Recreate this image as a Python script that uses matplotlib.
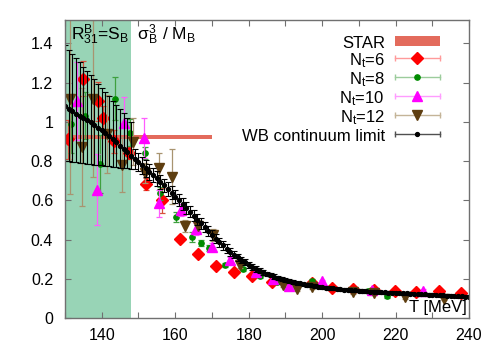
import matplotlib
matplotlib.use('Agg')
import matplotlib.pyplot as plt
from matplotlib.legend_handler import HandlerBase
from matplotlib.lines import Line2D
from matplotlib.patches import Rectangle
from matplotlib.ticker import MultipleLocator, FuncFormatter

plt.rcParams['font.family'] = ['Liberation Sans', 'DejaVu Sans']
plt.rcParams['mathtext.fontset'] = 'custom'
plt.rcParams['mathtext.rm'] = 'Liberation Sans'
plt.rcParams['mathtext.it'] = 'Liberation Sans:italic'
plt.rcParams['mathtext.bf'] = 'Liberation Sans:bold'

# ---------------- data ----------------
band_T = [130, 148]            # shaded crossover region
star_T = [130, 170]
star_value = 0.924
star_halfwidth = 0.011

t6 = [130.8, 134.9, 139.0, 140.3, 143.4, 147.4, 152.0, 156.4, 161.3, 166.1, 171.0,
      176.0, 181.0, 186.3, 197.2, 202.6, 208.3, 214.0, 219.9, 225.6, 231.8, 237.8]
v6 = [0.91, 1.22, 1.105, 1.02, 0.90, 0.84, 0.685, 0.60, 0.405, 0.325, 0.266,
      0.237, 0.213, 0.186, 0.178, 0.155, 0.150, 0.145, 0.139, 0.132, 0.139, 0.130]
e6 = [0.10, 0.09, 0.10, 0.06, 0.06, 0.03, 0.03, 0.065, 0.01, 0.01, 0.006,
      0.006, 0.006, 0.006, 0.006, 0.005, 0.005, 0.005, 0.005, 0.005, 0.005, 0.005]

t8 = [131.7, 135.5, 139.5, 143.5, 147.6, 151.9, 156.0, 160.2, 164.6, 166.9, 169.2,
      173.7, 178.4, 183.0, 187.8, 197.3, 212.4, 217.8]
v8 = [0.99, 1.03, 0.785, 1.117, 0.945, 0.84, 0.635, 0.515, 0.412, 0.381, 0.356,
      0.272, 0.252, 0.215, 0.182, 0.188, 0.14, 0.11]
e8 = [0.15, 0.12, 0.15, 0.11, 0.07, 0.03, 0.035, 0.025, 0.025, 0.015, 0.015,
      0.01, 0.01, 0.01, 0.008, 0.01, 0.006, 0.006]

t10 = [133.4, 138.8, 146.1, 151.5, 155.5, 161.5, 165.6, 169.9, 174.9, 182.1, 186.5,
       191.0, 200.0, 213.5, 227.5]
v10 = [1.105, 0.654, 0.995, 0.918, 0.585, 0.55, 0.453, 0.364, 0.295, 0.237, 0.198,
       0.164, 0.188, 0.142, 0.14]
e10 = [0.2, 0.18, 0.13, 0.1, 0.07, 0.03, 0.03, 0.02, 0.015, 0.01, 0.01,
       0.008, 0.008, 0.006, 0.006]

t12 = [131.3, 134.5, 137.6, 141.5, 145.4, 148.6, 151.8, 155.5, 159.0, 162.6, 166.2,
       170.2, 177.6, 189.4, 193.3, 197.2, 208.3, 214.0, 222.6, 233.3]
v12 = [1.114, 0.87, 1.117, 0.937, 0.782, 0.898, 0.739, 0.765, 0.72, 0.47, 0.47,
       0.425, 0.27, 0.168, 0.147, 0.16, 0.132, 0.126, 0.105, 0.098]
e12 = [0.48, 0.3, 0.4, 0.2, 0.14, 0.12, 0.05, 0.075, 0.14, 0.03, 0.03,
       0.03, 0.015, 0.01, 0.01, 0.01, 0.008, 0.008, 0.006, 0.006]

wb_T = [130, 131, 132, 133, 134, 135, 136, 137, 138, 139,
        140, 141, 142, 143, 144, 145, 146, 147, 148, 149,
        150, 151, 152, 153, 154, 155, 156, 157, 158, 159,
        160, 161, 162, 163, 164, 165, 166, 167, 168, 169,
        170, 171, 172, 173, 174, 175, 176, 177, 178, 179,
        180, 181, 182, 183, 184, 185, 186, 187, 188, 189,
        190, 191, 192, 193, 194, 195, 196, 197, 198, 199,
        200, 201, 202, 203, 204, 205, 206, 207, 208, 209,
        210, 211, 212, 213, 214, 215, 216, 217, 218, 219,
        220, 221, 222, 223, 224, 225, 226, 227, 228, 229,
        230, 231, 232, 233, 234, 235, 236, 237, 238, 239, 240]
wb_v = [1.080, 1.066, 1.053, 1.041, 1.030, 1.019, 1.008, 0.997, 0.984, 0.971,
        0.958, 0.944, 0.929, 0.913, 0.896, 0.879, 0.862, 0.845, 0.828, 0.811,
        0.795, 0.779, 0.763, 0.746, 0.729, 0.712, 0.694, 0.676, 0.657, 0.638,
        0.619, 0.600, 0.581, 0.562, 0.542, 0.522, 0.502, 0.482, 0.462, 0.443,
        0.424, 0.405, 0.387, 0.370, 0.354, 0.338, 0.323, 0.309, 0.296, 0.284,
        0.272, 0.261, 0.251, 0.242, 0.233, 0.225, 0.218, 0.211, 0.205, 0.199,
        0.194, 0.189, 0.184, 0.180, 0.176, 0.172, 0.169, 0.166, 0.163, 0.160,
        0.157, 0.155, 0.153, 0.151, 0.149, 0.147, 0.145, 0.144, 0.142, 0.141,
        0.139, 0.138, 0.137, 0.135, 0.134, 0.133, 0.132, 0.131, 0.130, 0.129,
        0.128, 0.127, 0.126, 0.125, 0.124, 0.123, 0.122, 0.121, 0.120, 0.119,
        0.118, 0.117, 0.116, 0.115, 0.114, 0.113, 0.112, 0.111, 0.110, 0.109, 0.108]
wb_err_up = [0.310, 0.302, 0.294, 0.284, 0.273, 0.263, 0.252, 0.241, 0.232, 0.224,
             0.215, 0.207, 0.201, 0.195, 0.190, 0.185, 0.181, 0.176, 0.171, 0.050,
             0.046, 0.044, 0.042, 0.040, 0.038, 0.037, 0.036, 0.035, 0.034, 0.033,
             0.032, 0.031, 0.030, 0.030, 0.029, 0.028, 0.028, 0.027, 0.026, 0.026,
             0.025, 0.024, 0.023, 0.022, 0.021, 0.020, 0.019, 0.018, 0.017, 0.016,
             0.015, 0.014, 0.014, 0.013, 0.012, 0.012, 0.011, 0.011, 0.010, 0.010,
             0.010, 0.009, 0.009, 0.009, 0.009, 0.009, 0.009, 0.009, 0.009, 0.009,
             0.008, 0.008, 0.008, 0.008, 0.008, 0.008, 0.008, 0.008, 0.008, 0.008,
             0.008, 0.008, 0.008, 0.008, 0.008, 0.008, 0.008, 0.008, 0.008, 0.008,
             0.007, 0.007, 0.007, 0.007, 0.007, 0.007, 0.007, 0.007, 0.007, 0.007,
             0.007, 0.007, 0.007, 0.007, 0.007, 0.007, 0.007, 0.007, 0.007, 0.007, 0.007]
wb_err_down = [0.280, 0.268, 0.257, 0.248, 0.239, 0.230, 0.221, 0.212, 0.202, 0.191,
               0.180, 0.168, 0.155, 0.142, 0.127, 0.112, 0.097, 0.082, 0.068, 0.050,
               0.046, 0.044, 0.042, 0.040, 0.038, 0.037, 0.036, 0.035, 0.034, 0.033,
               0.032, 0.031, 0.030, 0.030, 0.029, 0.028, 0.028, 0.027, 0.026, 0.026,
               0.025, 0.024, 0.023, 0.022, 0.021, 0.020, 0.019, 0.018, 0.017, 0.016,
               0.015, 0.014, 0.014, 0.013, 0.012, 0.012, 0.011, 0.011, 0.010, 0.010,
               0.010, 0.009, 0.009, 0.009, 0.009, 0.009, 0.009, 0.009, 0.009, 0.009,
               0.008, 0.008, 0.008, 0.008, 0.008, 0.008, 0.008, 0.008, 0.008, 0.008,
               0.008, 0.008, 0.008, 0.008, 0.008, 0.008, 0.008, 0.008, 0.008, 0.008,
               0.007, 0.007, 0.007, 0.007, 0.007, 0.007, 0.007, 0.007, 0.007, 0.007,
               0.007, 0.007, 0.007, 0.007, 0.007, 0.007, 0.007, 0.007, 0.007, 0.007, 0.007]

labels = ['STAR', r'$\mathregular{N_t}$=6', r'$\mathregular{N_t}$=8',
          r'$\mathregular{N_t}$=10', r'$\mathregular{N_t}$=12', 'WB continuum limit']

# ---------------- style ----------------
band_color = '#98d4b6'
star_color = '#e36b5c'
series = [
    # (T, v, err, marker, ms, colour, errcolour, legendline)
    (t6, v6, e6, 'D', 5.8, '#ff0000', '#d8503c', '#ff9a9a'),
    (t8, v8, e8, 'o', 3.8, '#008c00', '#3fa03f', '#9ccc9c'),
    (t10, v10, e10, '^', 7.0, '#ff00ff', '#ff5cff', '#ff9cff'),
    (t12, v12, e12, 'v', 7.0, '#5e3e10', '#a89470', '#c4b498'),
]

fs = 11.5
lfs = 12
fig = plt.figure(figsize=(5, 3.5), dpi=100)
ax = fig.add_axes([0.13, 0.0914, 0.808, 0.852])

ax.axvspan(band_T[0], band_T[1], color=band_color, lw=0, zorder=0)
ax.fill_between(star_T, star_value - star_halfwidth, star_value + star_halfwidth,
                color=star_color, lw=0, zorder=1.5)

for i, (t, v, e, m, ms, c, ec, lc) in enumerate(series):
    ax.errorbar(t, v, yerr=e, fmt=m, ms=ms, color=c, mec=c, ecolor=ec,
                elinewidth=0.9, capsize=2.5, capthick=0.9, zorder=3 + i * 0.1)

ax.errorbar(wb_T, wb_v, yerr=[wb_err_down, wb_err_up], fmt='o', ms=2.8,
            color='black', ecolor='black', elinewidth=0.8, capsize=2,
            capthick=0.8, zorder=5)

ax.set_xlim(130, 240)
ax.set_ylim(0, 1.52)
ax.xaxis.set_major_locator(MultipleLocator(20))
ax.xaxis.set_minor_locator(MultipleLocator(10))
ax.yaxis.set_major_locator(MultipleLocator(0.2))
ax.yaxis.set_major_formatter(FuncFormatter(lambda y, p: '%g' % round(y, 2)))
ax.xaxis.set_major_formatter(FuncFormatter(lambda x, p: '' if x <= 130 else '%g' % x))
frame = '#707070'
for s in ax.spines.values():
    s.set_color(frame)
    s.set_linewidth(1.0)
    s.set_zorder(10)
ax.tick_params(which='both', direction='in', top=True, right=True, color=frame,
               labelsize=fs, labelcolor='black', width=0.8)
ax.tick_params(which='major', length=4)
ax.tick_params(which='minor', length=4)
ax.tick_params(axis='x', which='major', pad=7)
ax.tick_params(axis='y', which='major', pad=8.5)

ax.text(0.016, 0.99,
        r'$\mathregular{R^B_{31}}$=S$_\mathregular{B}$  $\mathregular{\sigma^3_B}$ / M$_\mathregular{B}$',
        transform=ax.transAxes, ha='left', va='top', fontsize=12.5, zorder=8)
ax.text(0.995, 0.01, 'T [MeV]', transform=ax.transAxes, ha='right', va='bottom',
        fontsize=12, zorder=8)


class ErrHandler(HandlerBase):
    def __init__(self, marker, ms, color, lcolor):
        super().__init__()
        self.marker, self.ms, self.color, self.lcolor = marker, ms, color, lcolor

    def create_artists(self, legend, orig_handle, xdescent, ydescent, width,
                       height, fontsize, trans):
        y = (height - ydescent) / 2.0
        x0, x1 = -xdescent, width - xdescent
        line = Line2D([x0, x1], [y, y], color=self.lcolor, lw=1.0)
        caps = Line2D([x0, x1], [y, y], ls='none', marker='|', ms=5, mew=1.0,
                      color=self.lcolor)
        mk = Line2D([(x0 + x1) / 2], [y], ls='none', marker=self.marker,
                    ms=self.ms, color=self.color, mec=self.color)
        for a in (line, caps, mk):
            a.set_transform(trans)
        return [line, caps, mk]


class BarHandler(HandlerBase):
    def __init__(self, color, h):
        super().__init__()
        self.color, self.h = color, h

    def create_artists(self, legend, orig_handle, xdescent, ydescent, width,
                       height, fontsize, trans):
        y = (height - ydescent) / 2.0
        r = Rectangle((-xdescent, y - self.h / 2), width, self.h,
                      facecolor=self.color, edgecolor='none', transform=trans)
        return [r]


hstar = Line2D([], [])
handles = [hstar]
hmap = {hstar: BarHandler(star_color, 7.5)}
for (t, v, e, m, ms, c, ec, lc) in series:
    h = Line2D([], [])
    handles.append(h)
    hmap[h] = ErrHandler(m, ms, c, lc)
hwb = Line2D([], [])
handles.append(hwb)
hmap[hwb] = ErrHandler('o', 2.8, 'black', '#505050')

ax.legend(handles, labels, handler_map=hmap, loc='upper right',
          bbox_to_anchor=(0.928, 0.952), frameon=False, markerfirst=False,
          fontsize=lfs, borderpad=0, borderaxespad=0, handlelength=2.7,
          handleheight=1.2, handletextpad=0.6, labelspacing=0.0)

fig.savefig('out.png', dpi=100)
